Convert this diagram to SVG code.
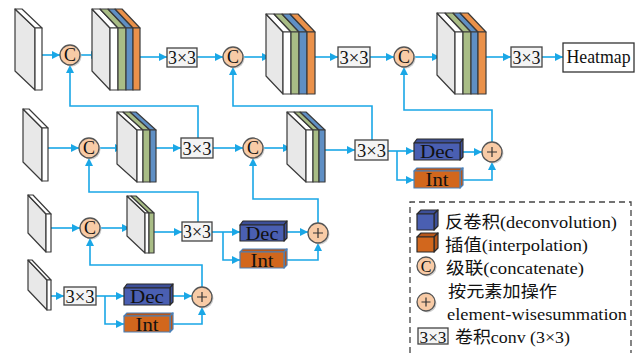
<svg xmlns="http://www.w3.org/2000/svg" width="643" height="353" viewBox="0 0 643 353">
<defs>
<style>
.ln{fill:none;stroke:#1AA7E6;stroke-width:1.6}
.ar{marker-end:url(#ah)}
.sd{fill:#e8e8e8;stroke:#3a3a3a;stroke-width:1.2;stroke-linejoin:round}
.wh{fill:#ffffff;stroke:#3a3a3a;stroke-width:1.2;stroke-linejoin:round}
.gr{fill:#a9bd86;stroke:#3a3a3a;stroke-width:1.2;stroke-linejoin:round}
.bl{fill:#5f8fc4;stroke:#3a3a3a;stroke-width:1.2;stroke-linejoin:round}
.or{fill:#ea914a;stroke:#3a3a3a;stroke-width:1.2;stroke-linejoin:round}
.cir{fill:#f8cba6;stroke:#555;stroke-width:1.3}
.shd{fill:#cfcfcf}
.box{fill:#f4f4f4;stroke:#444;stroke-width:1.3}
.t{font-family:"Liberation Serif","Noto Sans CJK SC",serif;fill:#111}
.cj{font-family:"Noto Sans CJK SC",sans-serif}
.k{font-size:19px}
.dt{font-size:18px}
.dec{fill:#4a5fb2;stroke:#2a2a2a;stroke-width:1.2;stroke-linejoin:round}
.dect{fill:#3d4f98;stroke:#2a2a2a;stroke-width:1.2;stroke-linejoin:round}
.int{fill:#d2671d;stroke:#4a80b8;stroke-width:1.2;stroke-linejoin:round}
.intt{fill:#b8571a;stroke:#4a80b8;stroke-width:1.2;stroke-linejoin:round}
</style>
<marker id="ah" viewBox="0 0 10 10" refX="10" refY="5" markerWidth="9" markerHeight="8" markerUnits="userSpaceOnUse" orient="auto"><path d="M0,0 L10,5 L0,10 Z" fill="#1AA7E6"/></marker>
<g id="cI"><circle cx="1.5" cy="1.5" r="10" class="shd"/><circle r="10" class="cir"/><text x="0" y="6" text-anchor="middle" font-size="18" class="t">C</text></g>
<g id="pI"><circle cx="1.5" cy="1.5" r="10" class="shd"/><circle r="10" class="cir"/><path d="M-5,0 H5 M0,-5 V5" stroke="#333" stroke-width="1.2"/></g>
</defs>
<rect width="643" height="353" fill="#ffffff"/>

<g id="connectors">
<path class="ln ar" d="M42,55 H60"/>
<path class="ln ar" d="M80,55 H99"/>
<path class="ln ar" d="M140,57 H167"/>
<path class="ln ar" d="M197,57 H223"/>
<path class="ln ar" d="M243,57 H270"/>
<path class="ln ar" d="M315,57 H338"/>
<path class="ln ar" d="M370,57 H394"/>
<path class="ln ar" d="M414,57 H440"/>
<path class="ln ar" d="M486,57 H511"/>
<path class="ln ar" d="M542,57 H563"/>
<path class="ln ar" d="M198,138 V106 H70 V65"/>
<path class="ln ar" d="M372,140 V106 H233 V67"/>
<path class="ln ar" d="M492,142 V110 H404 V67"/>
<path class="ln ar" d="M48,148 H79"/>
<path class="ln ar" d="M99,148 H123"/>
<path class="ln ar" d="M156,148 H181"/>
<path class="ln ar" d="M213,148 H243"/>
<path class="ln ar" d="M263,148 H291"/>
<path class="ln ar" d="M325,150 H355"/>
<path class="ln ar" d="M388,151 H414"/>
<path class="ln ar" d="M397,151 V180 H414"/>
<path class="ln ar" d="M463,152 H482"/>
<path class="ln ar" d="M463,180 H492 V162"/>
<path class="ln ar" d="M198,222 V192 H89 V158"/>
<path class="ln ar" d="M318,223 V199 H253 V158"/>
<path class="ln ar" d="M51,228 H80"/>
<path class="ln ar" d="M100,228 H130"/>
<path class="ln ar" d="M154,232 H182"/>
<path class="ln ar" d="M212,232 H240"/>
<path class="ln ar" d="M223,232 V260 H240"/>
<path class="ln ar" d="M287,232 H308"/>
<path class="ln ar" d="M287,260 H318 V243"/>
<path class="ln ar" d="M202,287 V265 H90 V238"/>
<path class="ln ar" d="M51,296 H64"/>
<path class="ln ar" d="M96,296 H124"/>
<path class="ln ar" d="M105,296 V324 H124"/>
<path class="ln ar" d="M173,296 H192"/>
<path class="ln ar" d="M173,324 H202 V307"/>
</g>

<!-- Row 1 -->
<g id="slab1">
<polygon class="sd" points="15,9 35,28 35,90 15,71"/>
<polygon class="wh" points="15,9 22,9 42,28 35,28"/>
<rect class="wh" x="35" y="28" width="7" height="62"/>
</g>
<g id="c1"><use href="#cI" x="70" y="55"/></g>
<g id="block1">
<polygon class="sd" points="92,9 110,28 110,90 92,71"/>
<polygon class="wh" points="110,28 118,28 100,9 92,9"/>
<polygon class="gr" points="118,28 126,28 108,9 100,9"/>
<polygon class="bl" points="126,28 133,28 115,9 108,9"/>
<polygon class="or" points="133,28 140,28 122,9 115,9"/>
<rect class="wh" x="110" y="28" width="8" height="62"/>
<rect class="gr" x="118" y="28" width="8" height="62"/>
<rect class="bl" x="126" y="28" width="7" height="62"/>
<rect class="or" x="133" y="28" width="7" height="62"/>
</g>
<g id="conv1"><rect class="box" x="167" y="48" width="30" height="19"/><text class="t k" x="182" y="64" text-anchor="middle" textLength="28" lengthAdjust="spacingAndGlyphs">3×3</text></g>
<g id="c2"><use href="#cI" x="233" y="57"/></g>
<g id="block2">
<polygon class="sd" points="266,14 283,32 283,94 266,76"/>
<polygon class="wh" points="283,32 291,32 274,14 266,14"/>
<polygon class="gr" points="291,32 299,32 282,14 274,14"/>
<polygon class="bl" points="299,32 307,32 290,14 282,14"/>
<polygon class="or" points="307,32 315,32 298,14 290,14"/>
<rect class="wh" x="283" y="32" width="8" height="62"/>
<rect class="gr" x="291" y="32" width="8" height="62"/>
<rect class="bl" x="299" y="32" width="8" height="62"/>
<rect class="or" x="307" y="32" width="8" height="62"/>
</g>
<g id="conv2"><rect class="box" x="338" y="47" width="32" height="20"/><text class="t k" x="354" y="63.5" text-anchor="middle" textLength="29" lengthAdjust="spacingAndGlyphs">3×3</text></g>
<g id="c3"><use href="#cI" x="404" y="57"/></g>
<g id="block3">
<polygon class="sd" points="437,13 455,32 455,94 437,75"/>
<polygon class="wh" points="455,32 463,32 445,13 437,13"/>
<polygon class="gr" points="463,32 471,32 453,13 445,13"/>
<polygon class="bl" points="471,32 478,32 460,13 453,13"/>
<polygon class="or" points="478,32 486,32 468,13 460,13"/>
<rect class="wh" x="455" y="32" width="8" height="62"/>
<rect class="gr" x="463" y="32" width="8" height="62"/>
<rect class="bl" x="471" y="32" width="7" height="62"/>
<rect class="or" x="478" y="32" width="8" height="62"/>
</g>
<g id="conv3"><rect class="box" x="511" y="47" width="31" height="20"/><text class="t k" x="526.5" y="63.5" text-anchor="middle" textLength="28" lengthAdjust="spacingAndGlyphs">3×3</text></g>
<g id="heatmap"><rect x="563" y="43" width="71" height="29" fill="#fff" stroke="#333" stroke-width="1.3"/><text class="t" x="598.5" y="63" font-size="18" text-anchor="middle" textLength="64" lengthAdjust="spacingAndGlyphs">Heatmap</text></g>

<!-- Row 2 -->
<g id="slab2">
<polygon class="sd" points="23,109 42,128 42,181 23,162"/>
<polygon class="wh" points="23,109 29,109 48,128 42,128"/>
<rect class="wh" x="42" y="128" width="6" height="53"/>
</g>
<g id="c4"><use href="#cI" x="89" y="148"/></g>
<g id="block4">
<polygon class="sd" points="117,112 137,130 137,182 117,164"/>
<polygon class="wh" points="137,130 143,130 123,112 117,112"/>
<polygon class="gr" points="143,130 150,130 130,112 123,112"/>
<polygon class="bl" points="150,130 156,130 136,112 130,112"/>
<rect class="wh" x="137" y="130" width="6" height="52"/>
<rect class="gr" x="143" y="130" width="7" height="52"/>
<rect class="bl" x="150" y="130" width="6" height="52"/>
</g>
<g id="conv4"><rect class="box" x="181" y="138" width="32" height="20"/><text class="t k" x="197" y="154.5" text-anchor="middle" textLength="29" lengthAdjust="spacingAndGlyphs">3×3</text></g>
<g id="c5"><use href="#cI" x="253" y="148"/></g>
<g id="block5">
<polygon class="sd" points="287,112 306,130 306,182 287,164"/>
<polygon class="wh" points="306,130 313,130 294,112 287,112"/>
<polygon class="gr" points="313,130 319,130 300,112 294,112"/>
<polygon class="bl" points="319,130 325,130 306,112 300,112"/>
<rect class="wh" x="306" y="130" width="7" height="52"/>
<rect class="gr" x="313" y="130" width="6" height="52"/>
<rect class="bl" x="319" y="130" width="6" height="52"/>
</g>
<g id="conv5"><rect class="box" x="355" y="140" width="33" height="20"/><text class="t k" x="371.5" y="156.5" text-anchor="middle" textLength="29" lengthAdjust="spacingAndGlyphs">3×3</text></g>
<g id="dec1">
<polygon class="dect" points="414,143 417,139 463,139 460,143"/>
<polygon class="dect" points="460,143 463,139 463,157 460,160"/>
<rect class="dec" x="414" y="143" width="46" height="17"/>
<text class="t dt" x="437" y="158" text-anchor="middle" textLength="34" lengthAdjust="spacingAndGlyphs">Dec</text>
</g>
<g id="int1">
<polygon class="intt" points="414,171 417,168 463,168 460,171"/>
<polygon class="intt" points="460,171 463,168 463,185 460,188"/>
<rect class="int" x="414" y="171" width="46" height="17"/>
<text class="t dt" x="437" y="186" text-anchor="middle" textLength="23" lengthAdjust="spacingAndGlyphs">Int</text>
</g>
<g id="p1"><use href="#pI" x="492" y="152"/></g>

<!-- Row 3 -->
<g id="slab3">
<polygon class="sd" points="28,195 46,214 46,252 28,233"/>
<polygon class="wh" points="28,195 33,195 51,214 46,214"/>
<rect class="wh" x="46" y="214" width="5" height="38"/>
</g>
<g id="c6"><use href="#cI" x="90" y="228"/></g>
<g id="block6">
<polygon class="sd" points="127,196 145,213 145,253 127,236"/>
<polygon class="wh" points="145,213 149,213 131,196 127,196"/>
<polygon class="gr" points="149,213 154,213 136,196 131,196"/>
<rect class="wh" x="145" y="213" width="4" height="40"/>
<rect class="gr" x="149" y="213" width="5" height="40"/>
</g>
<g id="conv6"><rect class="box" x="182" y="222" width="30" height="19"/><text class="t k" x="197" y="238" text-anchor="middle" textLength="28" lengthAdjust="spacingAndGlyphs">3×3</text></g>
<g id="dec2">
<polygon class="dect" points="240,225 243,221 287,221 284,225"/>
<polygon class="dect" points="284,225 287,221 287,238 284,241"/>
<rect class="dec" x="240" y="225" width="44" height="16"/>
<text class="t dt" x="262" y="239.5" text-anchor="middle" textLength="33" lengthAdjust="spacingAndGlyphs">Dec</text>
</g>
<g id="int2">
<polygon class="intt" points="240,252 243,249 287,249 284,252"/>
<polygon class="intt" points="284,252 287,249 287,265 284,268"/>
<rect class="int" x="240" y="252" width="44" height="16"/>
<text class="t dt" x="262" y="266.5" text-anchor="middle" textLength="23" lengthAdjust="spacingAndGlyphs">Int</text>
</g>
<g id="p2"><use href="#pI" x="318" y="233"/></g>

<!-- Row 4 -->
<g id="slab4">
<polygon class="sd" points="28,260 47,280 47,310 28,290"/>
<polygon class="wh" points="28,260 32,260 51,280 47,280"/>
<rect class="wh" x="47" y="280" width="4" height="30"/>
</g>
<g id="conv7"><rect class="box" x="64" y="287" width="32" height="18"/><text class="t k" x="80" y="302.5" text-anchor="middle" textLength="29" lengthAdjust="spacingAndGlyphs">3×3</text></g>
<g id="dec3">
<polygon class="dect" points="124,288 127,284 173,284 170,288"/>
<polygon class="dect" points="170,288 173,284 173,302 170,305"/>
<rect class="dec" x="124" y="288" width="46" height="17"/>
<text class="t dt" x="147" y="303" text-anchor="middle" textLength="34" lengthAdjust="spacingAndGlyphs">Dec</text>
</g>
<g id="int3">
<polygon class="intt" points="124,316 127,313 173,313 170,316"/>
<polygon class="intt" points="170,316 173,313 173,329 170,332"/>
<rect class="int" x="124" y="316" width="46" height="16"/>
<text class="t dt" x="147" y="330.5" text-anchor="middle" textLength="23" lengthAdjust="spacingAndGlyphs">Int</text>
</g>
<g id="p3"><use href="#pI" x="202" y="297"/></g>

<!-- Legend -->
<g id="legend">
<path d="M410,353 V202 H631 V353" fill="none" stroke="#444" stroke-width="1.3" stroke-dasharray="6,4"/>
<polygon class="dect" points="417,214 421,210 438,210 434,214"/>
<polygon class="dect" points="434,214 438,210 438,226 434,230"/>
<rect class="dec" x="417" y="214" width="17" height="16"/>
<polygon class="intt" points="417,237 421,233 438,233 434,237" style="stroke:#2a2a2a"/>
<polygon class="intt" points="434,237 438,233 438,248 434,252" style="stroke:#2a2a2a"/>
<rect class="int" x="417" y="237" width="17" height="15" style="stroke:#2a2a2a"/>
<circle cx="427.5" cy="267.5" r="9" class="shd"/><circle cx="426" cy="266" r="9" class="cir"/>
<text class="t" x="426" y="271.5" font-size="16" text-anchor="middle">C</text>
<circle cx="427.5" cy="303.5" r="9" class="shd"/><circle cx="426" cy="302" r="9" class="cir"/>
<path d="M421.5,302 H430.5 M426,297.5 V306.5" stroke="#333" stroke-width="1.2"/>
<rect class="box" x="418" y="328" width="30" height="16"/>
<text class="t" x="433" y="342.5" font-size="17" text-anchor="middle" textLength="27" lengthAdjust="spacingAndGlyphs">3×3</text>
<text class="t" x="445" y="228" font-size="17" textLength="172" lengthAdjust="spacingAndGlyphs"><tspan class="cj">反卷积</tspan>(deconvolution)</text>
<text class="t" x="445" y="251" font-size="17" textLength="143" lengthAdjust="spacingAndGlyphs"><tspan class="cj">插值</tspan>(interpolation)</text>
<text class="t" x="446" y="274" font-size="16.5" textLength="138" lengthAdjust="spacingAndGlyphs"><tspan class="cj">级联</tspan>(concatenate)</text>
<text class="t cj" x="448" y="297" font-size="16" textLength="109" lengthAdjust="spacingAndGlyphs">按元素加操作</text>
<text class="t" x="447" y="320" font-size="17" textLength="180" lengthAdjust="spacingAndGlyphs">element-wisesummation</text>
<text class="t" x="455" y="343" font-size="17" textLength="115" lengthAdjust="spacingAndGlyphs"><tspan class="cj">卷积</tspan>conv (3×3)</text>
</g>
</svg>
